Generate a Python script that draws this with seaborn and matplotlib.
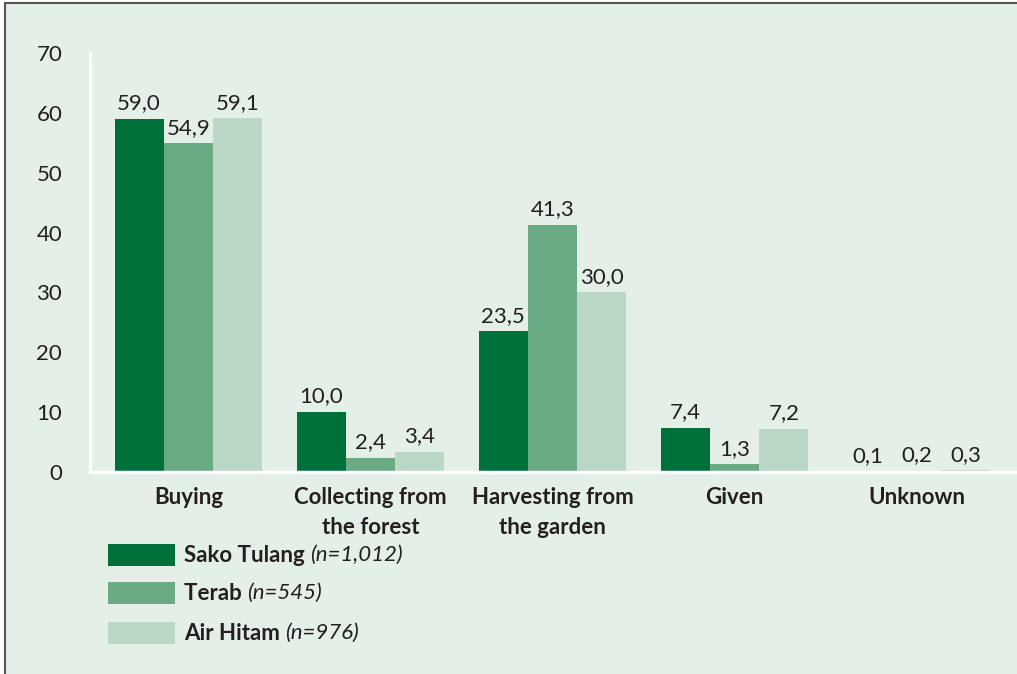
import matplotlib
matplotlib.use("Agg")
import matplotlib.pyplot as plt
import seaborn as sns
import pandas as pd
from matplotlib.patches import Rectangle

categories = ["Buying", "Collecting from\nthe forest", "Harvesting from\nthe garden", "Given", "Unknown"]
series_names = ["Sako Tulang", "Terab", "Air Hitam"]
series_notes = ["(n=1,012)", "(n=545)", "(n=976)"]
sako_tulang = [59.0, 10.0, 23.5, 7.4, 0.1]
terab = [54.9, 2.4, 41.3, 1.3, 0.2]
air_hitam = [59.1, 3.4, 30.0, 7.2, 0.3]
y_ticks = [0, 10, 20, 30, 40, 50, 60, 70]

colors = ["#00703a", "#6aaa84", "#bad8c5"]
bg = "#e4efe7"
txt = "#231f20"
fs = 16

rows = []
for name, vals in zip(series_names, [sako_tulang, terab, air_hitam]):
    for c, v in zip(categories, vals):
        rows.append({"category": c, "series": name, "value": v})
df = pd.DataFrame(rows)

sns.set_style("white")
plt.rcParams["font.family"] = ["Lato", "DejaVu Sans"]

fig = plt.figure(figsize=(10.17, 6.74), dpi=100)
fig.patch.set_facecolor("white")
bgrect = Rectangle((5/1017, -0.01), 1.02, 1 - 3/674 + 0.01, transform=fig.transFigure,
                   facecolor=bg, edgecolor="#555555", linewidth=1.5, zorder=-10)
fig.patches.append(bgrect)

ax = fig.add_axes([90/1017, (674-472)/674, (1015-90)/1017, (472-53)/674])
ax.set_facecolor("none")
ax.set_zorder(5)
sns.barplot(data=df, x="category", y="value", hue="series", palette=colors,
            width=0.81, gap=0, ax=ax, saturation=1, legend=False,
            edgecolor="none", linewidth=0)

for cont in ax.containers:
    labels = [f"{v:.1f}".replace(".", ",") for v in cont.datavalues]
    ax.bar_label(cont, labels=labels, padding=4, fontsize=fs, color=txt)

ax.set_ylim(0, 70)
ax.set_xlim(-0.54, 4.54)
ax.set_yticks(y_ticks)
ax.set_xticks(range(len(categories)))
ax.set_xticklabels(categories, fontweight="bold", linespacing=1.5)
ax.set_xlabel("")
ax.set_ylabel("")
for s in ["top", "right"]:
    ax.spines[s].set_visible(False)
ax.spines["left"].set_color("white")
ax.spines["left"].set_linewidth(2)
ax.spines["bottom"].set_color("white")
ax.spines["bottom"].set_linewidth(2.5)
ax.tick_params(axis="y", colors="white", length=6, width=2, labelcolor=txt,
               labelsize=fs, pad=14)
ax.tick_params(axis="x", length=0, labelcolor=txt, labelsize=fs, pad=11)

# legend
ys = [555, 593, 633]
for col, name, note, y in zip(colors, series_names, series_notes, ys):
    fig.patches.append(Rectangle((108/1017, 1 - (y + 11)/674), 67/1017, 22/674,
                                 transform=fig.transFigure, facecolor=col, edgecolor="none",
                                 zorder=2))
    t = fig.text(184/1017, 1 - y/674, name + " ", fontsize=fs, fontweight="bold",
                 color=txt, va="center", ha="left")
    fig.canvas.draw()
    bb = t.get_window_extent()
    fig.text(bb.x1 / 1017, 1 - y/674, note, fontsize=fs, style="italic",
             color=txt, va="center", ha="left")

fig.savefig("out.png", dpi=100, facecolor=fig.get_facecolor())
